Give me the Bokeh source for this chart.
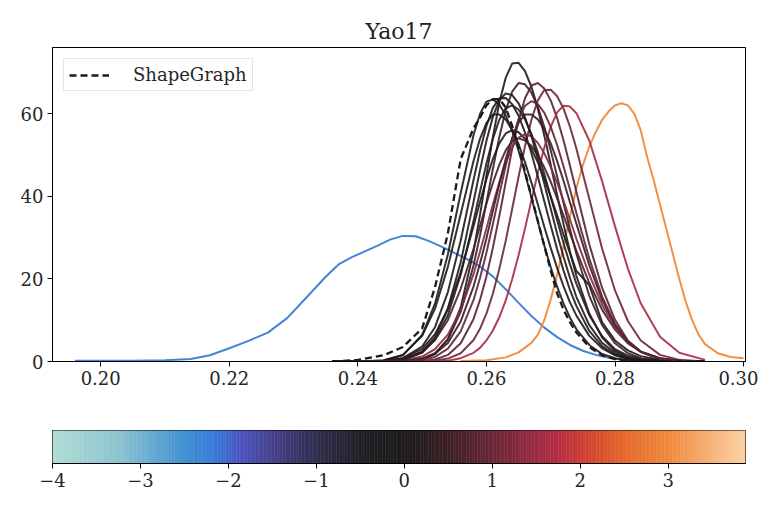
import numpy as np
from bokeh.plotting import figure
from bokeh.models import Range1d, FixedTicker, Legend, LegendItem, CustomJSTickFormatter
from bokeh.layouts import column
from bokeh.embed import file_html
from bokeh.resources import INLINE

# ---------------- data ----------------
x_grid = [0.236, 0.240, 0.244, 0.247, 0.250, 0.252, 0.254, 0.256, 0.258, 0.259, 0.260,
          0.261, 0.262, 0.263, 0.264, 0.265, 0.266, 0.267, 0.268, 0.269, 0.270, 0.271,
          0.272, 0.273, 0.274, 0.276, 0.278, 0.280, 0.282, 0.284, 0.287, 0.290, 0.294]

# colour value of each dark density curve (colour-bar variable)
dark_values = [0.0, -0.1, 0.5, 0.8, 1.0, 1.6, 0.1, 0.2, 0.1, 0.6, 1.3, 0.4, 0.1, 0.0, 0.9]
dark_curves = [
    [0, 0, 0, 0.05, 0.5, 1.8, 5.4, 13.1, 26.7, 35.5, 45.0, 54.3, 62.6, 68.7, 72.1, 72.3, 70.3,
     66.5, 61.2, 54.7, 47.6, 40.3, 33.2, 26.5, 20.7, 11.6, 5.8, 2.6, 1.0, 0.4, 0.1, 0, 0],
    [0, 0, 0.2, 1.5, 6.4, 14.0, 25.9, 40.8, 54.9, 59.9, 62.9, 63.4, 62.2, 59.6, 55.8, 51.0, 45.5,
     39.7, 33.8, 28.1, 22.8, 18.1, 14.0, 10.6, 7.8, 4.0, 1.8, 0.8, 0.3, 0.1, 0, 0, 0],
    [0, 0, 0, 0.1, 0.6, 2.0, 5.3, 12.0, 23.3, 30.5, 38.5, 46.6, 54.3, 60.8, 65.3, 67.4, 67.1,
     65.1, 61.6, 56.8, 51.1, 44.8, 38.3, 32.0, 26.0, 15.9, 8.8, 4.4, 2.0, 0.8, 0.2, 0, 0],
    [0, 0, 0, 0, 0.1, 0.5, 1.6, 4.4, 10.3, 14.9, 20.6, 27.5, 35.2, 43.4, 51.4, 58.3, 63.7,
     66.8, 67.4, 66.1, 63.2, 58.9, 53.5, 47.4, 41.0, 28.4, 17.8, 10.1, 5.1, 2.4, 0.6, 0.1, 0],
    [0, 0, 0, 0, 0, 0.2, 0.7, 2.0, 5.2, 7.9, 11.6, 16.4, 22.4, 29.2, 36.9, 44.7, 52.1,
     58.5, 63.2, 65.7, 65.8, 64.2, 61.2, 56.8, 51.5, 39.4, 27.3, 17.2, 9.8, 5.1, 1.6, 0.4, 0],
    [0, 0, 0, 0, 0, 0.1, 0.2, 0.8, 2.1, 3.3, 5.1, 7.5, 10.7, 14.8, 19.9, 25.7, 32.2,
     39.0, 45.7, 51.8, 56.8, 60.3, 61.9, 61.7, 60.1, 53.5, 43.6, 32.7, 22.5, 14.1, 6.0, 2.1, 0.4],
    [0, 0, 0.1, 0.8, 3.6, 8.3, 16.8, 29.3, 44.0, 51.0, 57.0, 61.4, 63.7, 63.8, 62.3, 59.5, 55.4,
     50.4, 44.7, 38.8, 32.9, 27.2, 22.0, 17.3, 13.4, 7.4, 3.7, 1.7, 0.7, 0.3, 0, 0, 0],
    [0, 0, 0.1, 0.4, 2.1, 5.2, 11.2, 21.0, 34.1, 41.1, 47.9, 53.9, 58.5, 61.3, 62.0, 61.0, 58.6,
     55.1, 50.6, 45.4, 39.9, 34.2, 28.6, 23.5, 18.8, 11.2, 6.1, 3.0, 1.4, 0.6, 0.1, 0, 0],
    [0, 0, 0.1, 0.8, 3.0, 6.6, 12.7, 21.6, 32.8, 38.6, 44.1, 49.0, 52.8, 55.2, 56.0, 55.5, 53.9,
     51.5, 48.2, 44.3, 39.9, 35.4, 30.7, 26.2, 21.9, 18.5, 9.5, 5.1, 2.7, 1.3, 0.4, 0.1, 0],
    [0, 0, 0.1, 0.6, 2.4, 5.2, 10.0, 17.6, 27.3, 32.8, 38.2, 43.2, 47.6, 51.1, 53.3, 54.0, 53.5,
     52.2, 50.0, 47.0, 43.5, 39.5, 35.3, 31.0, 26.8, 19.0, 12.5, 7.7, 4.4, 2.4, 0.8, 0.2, 0],
    [0, 0, 0, 0.3, 1.2, 3.0, 6.5, 12.4, 21.2, 26.6, 32.2, 38.0, 43.3, 48.1, 51.8, 54.2, 55.0,
     54.5, 52.9, 50.4, 47.1, 43.2, 38.9, 34.3, 29.7, 21.0, 13.7, 8.3, 4.7, 2.4, 0.8, 0.2, 0],
    [0, 0, 0, 0.1, 0.7, 1.9, 4.5, 9.7, 18.2, 23.7, 29.8, 36.4, 43.0, 49.0, 54.1, 57.8, 59.8,
     59.8, 58.6, 56.2, 52.8, 48.5, 43.7, 38.5, 33.3, 23.3, 14.9, 8.8, 4.8, 2.4, 0.7, 0.2, 0],
    [0, 0, 0.1, 0.4, 2.3, 5.8, 12.8, 24.0, 38.7, 46.3, 53.4, 59.2, 63.2, 64.9, 64.5, 62.5, 59.1,
     54.5, 49.1, 43.1, 37.0, 30.9, 25.3, 20.2, 15.6, 8.8, 4.5, 2.1, 0.8, 0.3, 0.1, 0, 0],
    [0, 0, 0.3, 1.6, 6.2, 12.8, 22.9, 35.7, 48.6, 53.9, 57.7, 59.8, 59.8, 58.6, 56.1, 52.6, 48.2,
     43.3, 38.0, 32.6, 27.5, 22.6, 18.2, 14.3, 11.1, 6.2, 3.2, 1.5, 0.6, 0.2, 0, 0, 0],
    [0, 0, 0, 0.1, 0.4, 1.1, 3.1, 7.3, 14.9, 20.2, 26.3, 33.2, 40.4, 47.4, 53.7, 58.7, 61.9,
     63.0, 62.3, 60.2, 56.8, 52.4, 47.2, 41.6, 35.9, 24.9, 15.7, 9.1, 4.8, 2.3, 0.6, 0.1, 0],
]

shapegraph_y = [0, 0.4, 1.5, 3.5, 8.0, 18.0, 31.0, 49.0, 56.5, 59.0, 62.0, 63.5, 63.5, 61.5, 57.0,
                52.0, 46.0, 40.0, 34.0, 28.0, 22.0, 16.5, 12.5, 9.5, 7.0, 3.5, 1.5, 0.6, 0.2, 0.1,
                0, 0, 0]

blue_value = -2.2
blue_x = [0.196, 0.200, 0.205, 0.210, 0.214, 0.217, 0.220, 0.223, 0.226, 0.229, 0.232, 0.235,
          0.237, 0.239, 0.241, 0.243, 0.245, 0.247, 0.249, 0.251, 0.253, 0.255, 0.257, 0.259,
          0.261, 0.263, 0.265, 0.267, 0.269, 0.271, 0.273, 0.275, 0.277, 0.279, 0.281, 0.282]
blue_y = [0.2, 0.2, 0.2, 0.3, 0.6, 1.5, 3.2, 5.0, 7.0, 10.5, 15.5, 20.5, 23.5, 25.2, 26.6, 28.0,
          29.5, 30.4, 30.3, 29.2, 27.8, 26.3, 24.8, 23.0, 20.6, 17.5, 14.2, 11.0, 8.2, 5.9, 4.0,
          2.6, 1.6, 0.9, 0.4, 0.2]

orange_value = 3.0
orange_x = [0.256, 0.260, 0.263, 0.265, 0.267, 0.268, 0.269, 0.270, 0.271, 0.272, 0.273, 0.274,
            0.275, 0.276, 0.277, 0.278, 0.279, 0.280, 0.281, 0.282, 0.283, 0.284, 0.285, 0.286,
            0.287, 0.288, 0.289, 0.290, 0.291, 0.292, 0.293, 0.294, 0.296, 0.298, 0.300]
orange_y = [0.1, 0.3, 1.0, 2.2, 4.5, 6.5, 10.0, 15.0, 21.0, 28.0, 35.0, 42.0, 47.5, 52.0, 55.5,
            58.5, 60.5, 62.0, 62.5, 62.0, 60.0, 56.0, 49.5, 44.0, 38.0, 32.0, 26.0, 20.0, 14.5,
            10.0, 6.5, 4.2, 2.0, 1.1, 0.8]

x_ticks = [0.20, 0.22, 0.24, 0.26, 0.28, 0.30]
y_ticks = [0, 20, 40, 60]
cb_low, cb_high = -4.0, 3.88
cb_ticks = [-4, -3, -2, -1, 0, 1, 2, 3]

# ---------------- style ----------------
FONT = "DejaVu Serif"
stops = [(0.000, "#b0ded4"), (0.097, "#8cc3cf"), (0.194, "#3d8fd4"), (0.239, "#3878d8"),
         (0.271, "#4b54c2"), (0.323, "#443f85"), (0.387, "#2e2c48"), (0.452, "#1f1e22"),
         (0.516, "#1e1a1a"), (0.568, "#3a1f25"), (0.613, "#5a2533"), (0.677, "#8a2a40"),
         (0.729, "#b52c42"), (0.774, "#d2442f"), (0.826, "#e5692c"), (0.890, "#ef8a3c"),
         (0.955, "#f8b57c"), (1.000, "#fcd0a3")]
sp = np.array([s[0] for s in stops])
srgb = np.array([[int(s[1][i:i + 2], 16) for i in (1, 3, 5)] for s in stops], dtype=float)


def cmap(v):
    f = min(max((v - cb_low) / (cb_high - cb_low), 0.0), 1.0)
    r, g, b = (np.interp(f, sp, srgb[:, k]) for k in range(3))
    return "#%02x%02x%02x" % (int(round(r)), int(round(g)), int(round(b)))


def style_axes(fig, size="18px"):
    for ax in (fig.xaxis, fig.yaxis):
        ax.major_label_text_font = FONT
        ax.major_label_text_font_size = size
        ax.major_label_text_color = "#262626"
        ax.axis_line_color = "black"
        ax.major_tick_line_color = "black"
        ax.major_tick_in = 0
        ax.major_tick_out = 5
        ax.minor_tick_line_color = None
        ax.major_label_standoff = 4


# ---------------- main figure ----------------
p = figure(width=758, height=400, x_range=Range1d(0.1925, 0.3003), y_range=Range1d(0, 76),
           title="Yao17", toolbar_location=None, output_backend="svg",
           min_border_left=52, min_border_right=13, min_border_top=47, min_border_bottom=39)
p.title.align = "center"
p.title.text_font = FONT
p.title.text_font_style = "normal"
p.title.text_font_size = "22px"
p.title.text_color = "#222222"
p.title.standoff = 8
p.grid.visible = False
p.outline_line_color = "black"
p.outline_line_width = 1
p.background_fill_color = "white"
style_axes(p)
p.xaxis.ticker = FixedTicker(ticks=x_ticks)
p.xaxis.formatter = CustomJSTickFormatter(code="return tick.toFixed(2);")
p.yaxis.ticker = FixedTicker(ticks=y_ticks)

p.line(blue_x, blue_y, line_color=cmap(blue_value), line_width=2, line_alpha=0.95)
p.line(orange_x, orange_y, line_color=cmap(orange_value), line_width=2, line_alpha=0.95)
for v, ys in zip(dark_values, dark_curves):
    p.line(x_grid, ys, line_color=cmap(v), line_width=2, line_alpha=0.9)
sg = p.line(x_grid, shapegraph_y, line_color="#1a1a1a", line_width=2.3, line_dash="7 4")

legend = Legend(items=[LegendItem(label="ShapeGraph", renderers=[sg])], location="top_left")
legend.label_text_font = FONT
legend.label_text_font_size = "18px"
legend.label_text_color = "#262626"
legend.border_line_color = "#cccccc"
legend.border_line_width = 1
legend.background_fill_alpha = 0.85
legend.margin = 11
legend.padding = 5
legend.glyph_width = 40
legend.glyph_height = 20
legend.label_standoff = 24
p.add_layout(legend)

# ---------------- colour bar ----------------
n = 256
edges = np.linspace(cb_low, cb_high, n + 1)
mids = 0.5 * (edges[:-1] + edges[1:])
cb_colors = [cmap(m) for m in mids]

c = figure(width=758, height=100, x_range=Range1d(cb_low, cb_high), y_range=Range1d(0, 1),
           toolbar_location=None, output_backend="svg",
           min_border_left=52, min_border_right=13, min_border_top=30, min_border_bottom=37)
c.quad(left=edges[:-1], right=edges[1:], bottom=0, top=1, fill_color=cb_colors,
       line_color=cb_colors, line_width=0.5)
c.grid.visible = False
c.yaxis.visible = False
c.outline_line_color = "black"
c.outline_line_width = 1
style_axes(c)
c.xaxis.ticker = FixedTicker(ticks=cb_ticks)
c.xaxis.formatter = CustomJSTickFormatter(
    code="return (tick < 0 ? '\u2212' : '') + Math.abs(tick).toFixed(0);")

layout = column(p, c, spacing=0)
open("out.html", "w").write(file_html(layout, INLINE))
